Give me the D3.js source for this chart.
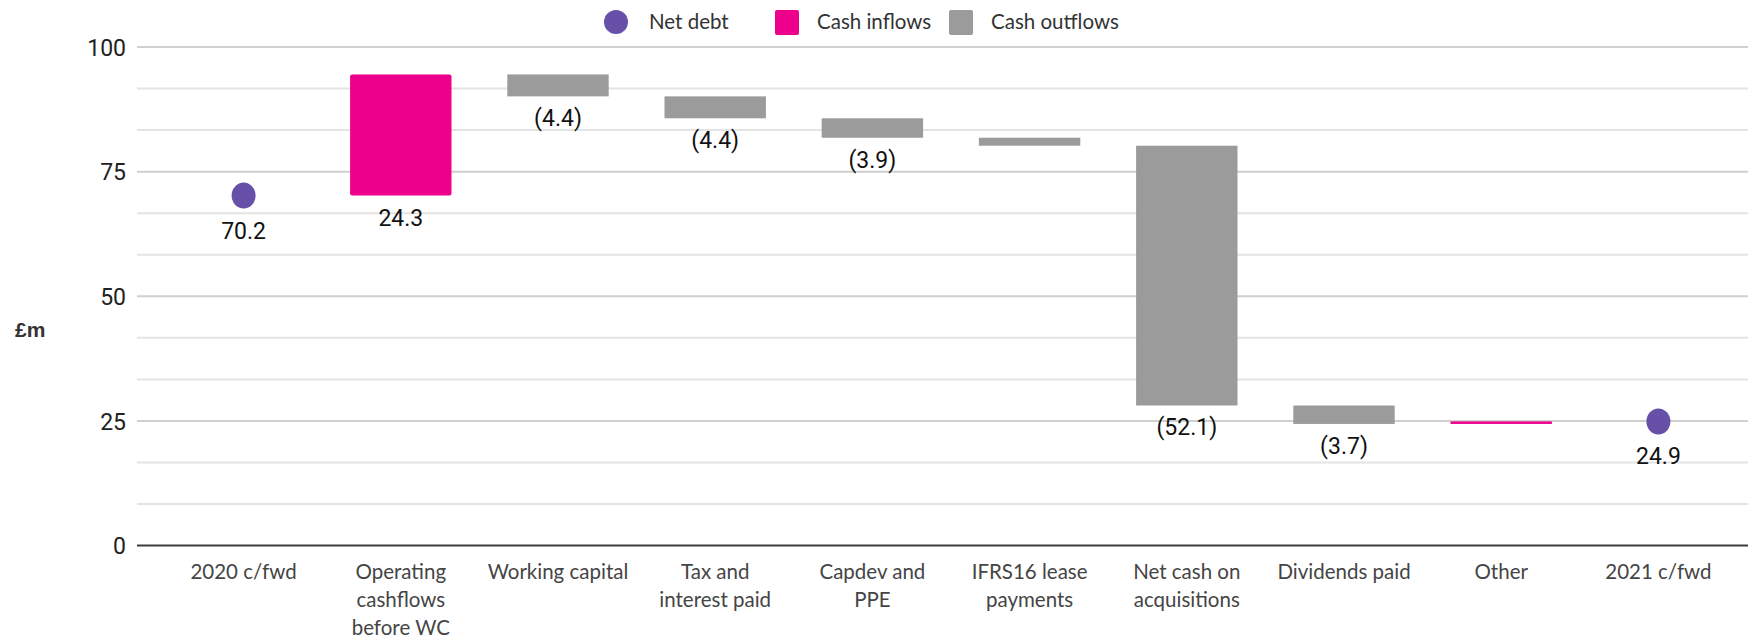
<!DOCTYPE html>
<html>
<head>
<meta charset="utf-8">
<script src="https://cdn.jsdelivr.net/npm/d3@7"></script>
<style>
  html, body { margin: 0; padding: 0; background: #fff; }
  svg { display: block; }
</style>
</head>
<body>
<svg id="chart" width="1748" height="640"></svg>
<script>
// Net debt bridge, £m
const categories = ["2020 c/fwd", "Operating cashflows before WC", "Working capital",
  "Tax and interest paid", "Capdev and PPE", "IFRS16 lease payments",
  "Net cash on acquisitions", "Dividends paid", "Other", "2021 c/fwd"];
const categoryLines = [["2020 c/fwd"], ["Operating", "cashflows", "before WC"], ["Working capital"],
  ["Tax and", "interest paid"], ["Capdev and", "PPE"], ["IFRS16 lease", "payments"],
  ["Net cash on", "acquisitions"], ["Dividends paid"], ["Other"], ["2021 c/fwd"]];
const values = [70.2, 24.3, -4.4, -4.4, -3.9, -1.6, -52.1, -3.7, 0.5, 24.9];
const kinds = ["total", "inflow", "outflow", "outflow", "outflow", "outflow", "outflow", "outflow", "inflow", "total"];
const showValue = [true, true, true, true, true, false, true, true, false, true];
const yTicks = [0, 25, 50, 75, 100];
const legendLabels = ["Net debt", "Cash inflows", "Cash outflows"];
const legendKinds = ["total", "inflow", "outflow"];

const colors = { total: "#6650a8", inflow: "#ec008c", outflow: "#9b9b9b" };

const svg = d3.select("#chart");
const plotLeft = 137, plotRight = 1748;

const x = d3.scaleBand().domain(categories).range([165, 1737])
  .paddingInner(0.355).paddingOuter(0.1775);
const y = d3.scaleLinear().domain([0, 100]).range([545.6, 47]);

// Gridlines: major every 25, minor thirds in between
const grid = d3.range(0, 100.001, 25 / 3).filter(v => v > 0.001);
svg.append("g").selectAll("line").data(grid).join("line")
  .attr("x1", plotLeft).attr("x2", plotRight)
  .attr("y1", d => y(d)).attr("y2", d => y(d))
  .attr("stroke", d => Math.abs(d / 25 - Math.round(d / 25)) < 1e-6 ? "#cfcfcf" : "#e4e4e4")
  .attr("stroke-width", 2);

// Zero axis line
svg.append("line")
  .attr("x1", plotLeft).attr("x2", plotRight)
  .attr("y1", y(0)).attr("y2", y(0))
  .attr("stroke", "#3c3c3c").attr("stroke-width", 2);

// Y axis tick labels
const yAxis = d3.axisLeft(y).tickValues(yTicks).tickSize(0).tickPadding(0);
const yg = svg.append("g").attr("transform", "translate(126,0)").call(yAxis);
yg.select(".domain").remove();
yg.selectAll("text")
  .attr("font-family", "Roboto, 'Liberation Sans', sans-serif")
  .attr("font-size", 23).attr("fill", "#222").attr("dy", "0.36em");

// Axis title
svg.append("text").attr("x", 15).attr("y", 337)
  .attr("font-family", "'Liberation Sans', Arial, sans-serif")
  .attr("font-weight", "bold").attr("font-size", 21).attr("fill", "#333")
  .text("£m");

// Bridge geometry
let running = 0;
const steps = values.map((v, i) => {
  let s;
  if (kinds[i] === "total") { running = v; s = { lo: v, hi: v }; }
  else { const start = running; running = start + v; s = { lo: Math.min(start, running), hi: Math.max(start, running) }; }
  return Object.assign(s, { cat: categories[i], v, kind: kinds[i], show: showValue[i] });
});

const bars = steps.filter(d => d.kind !== "total");
svg.append("g").selectAll("rect").data(bars).join("rect")
  .attr("x", d => x(d.cat)).attr("width", x.bandwidth())
  .attr("y", d => y(d.hi)).attr("height", d => Math.max(2, y(d.lo) - y(d.hi)))
  .attr("rx", d => d.kind === "inflow" && (y(d.lo) - y(d.hi)) > 10 ? 2 : 0)
  .attr("fill", d => colors[d.kind]);

const dots = steps.filter(d => d.kind === "total");
svg.append("g").selectAll("ellipse").data(dots).join("ellipse")
  .attr("cx", d => x(d.cat) + x.bandwidth() / 2).attr("cy", d => y(d.v))
  .attr("rx", 12).attr("ry", 13)
  .attr("fill", colors.total);

// Value labels under each mark
const fmt = v => v < 0 ? "(" + d3.format(".1f")(-v) + ")" : d3.format(".1f")(v);
svg.append("g").selectAll("text").data(steps.filter(d => d.show)).join("text")
  .attr("x", d => x(d.cat) + x.bandwidth() / 2)
  .attr("y", d => (d.kind === "total" ? y(d.v) + 13 : y(d.lo)) + 30)
  .attr("text-anchor", "middle")
  .attr("font-family", "'Liberation Sans Narrow', Roboto, sans-serif")
  .attr("font-size", 23).attr("fill", "#111")
  .text(d => fmt(d.v));

// Category labels
const xl = svg.append("g").selectAll("text").data(categories).join("text")
  .attr("x", d => x(d) + x.bandwidth() / 2)
  .attr("y", 579)
  .attr("text-anchor", "middle")
  .attr("font-family", "Lato, 'Open Sans', sans-serif")
  .attr("font-size", 20.5).attr("fill", "#454545");
xl.each(function (d, i) {
  d3.select(this).selectAll("tspan").data(categoryLines[i]).join("tspan")
    .attr("x", x(d) + x.bandwidth() / 2)
    .attr("dy", (t, j) => j === 0 ? 0 : 28)
    .text(t => t);
});

// Legend
const legendX = [604, 775, 949];
const lg = svg.append("g").selectAll("g").data(legendLabels).join("g")
  .attr("transform", (d, i) => `translate(${legendX[i]},0)`);
lg.filter((d, i) => legendKinds[i] === "total").append("circle")
  .attr("cx", 12).attr("cy", 22).attr("r", 12).attr("fill", colors.total);
lg.filter((d, i) => legendKinds[i] !== "total").append("rect")
  .attr("x", 0).attr("y", 10).attr("width", 24).attr("height", 25).attr("rx", 2)
  .attr("fill", (d, i, n) => colors[legendKinds[legendLabels.indexOf(d)]]);
lg.append("text").attr("x", (d, i) => i === 0 ? 45 : 42).attr("y", 29)
  .attr("font-family", "Lato, 'Open Sans', sans-serif")
  .attr("font-size", 20.5).attr("fill", "#333")
  .text(d => d);
</script>
</body>
</html>
